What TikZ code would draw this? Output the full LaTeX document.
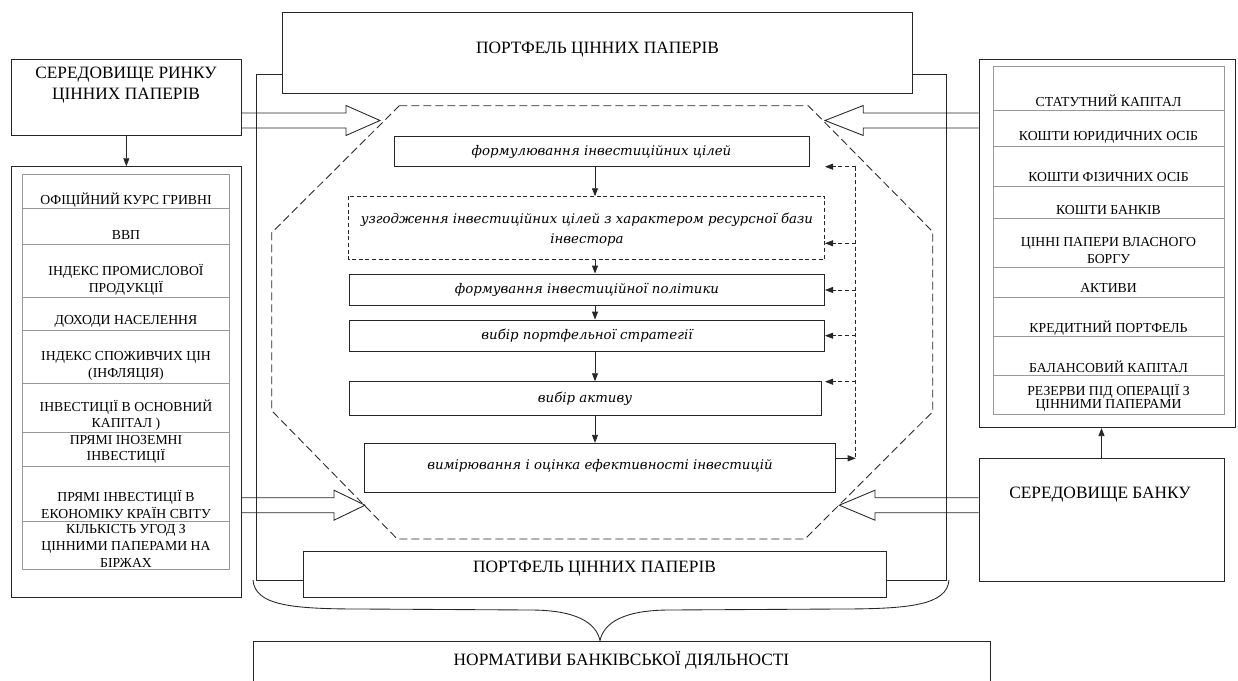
\documentclass[tikz,border=0pt]{standalone}
\usepackage{fontspec}
\setmainfont{Liberation Serif}
\newfontfamily\flowfont{DejaVu Serif}
\usetikzlibrary{arrows.meta, fit, calc}

% double-line hollow arrow: from anchor, head base x, tip x, axis y
\newcommand{\hollowarr}[4]{%
  \draw[frame] (#1 |- 0,#4-7.5) -- (#2,#4-7.5) -- (#2,#4-15) -- (#3,#4)
    -- (#2,#4+15) -- (#2,#4+7.5) -- (#1 |- 0,#4+7.5);}

\begin{document}
\begin{tikzpicture}[x=0.75pt, y=-0.75pt,
    box/.style={draw=black!85, line width=0.65pt, inner sep=0pt},
    tbl/.style={draw=black!40, line width=0.6pt, inner sep=0pt},
    cell/.style={draw=black!40, line width=0.6pt},
    frame/.style={draw=black!85, line width=0.65pt},
    hdr/.style={align=center, inner sep=0pt, font=\fontsize{13}{16}\selectfont},
    cellt/.style={align=center, inner sep=0pt, font=\fontsize{10.3}{12.5}\selectfont},
    flowt/.style={align=center, inner sep=0pt, font=\flowfont\itshape\fontsize{10}{15}\selectfont},
    arr/.style={draw=black!85, line width=0.65pt, -{Triangle[length=6pt,width=4.5pt]}},
    fbline/.style={draw=black!85, line width=0.6pt, dash pattern=on 3pt off 2pt}]
  \useasboundingbox (0,0) rectangle (1238,681);
  \clip (0,0) rectangle (1238,681);

  % central portfolio boxes and frame
  \node[box, fit={(282.7,12.3) (912.3,93.3)}] (topP) {};
  \node[hdr] (topPt) at (597.5,50) {ПОРТФЕЛЬ ЦІННИХ ПАПЕРІВ};
  \node[box, fit={(303,551) (886,597)}] (botP) {};
  \node[hdr] (botPt) at (594.5,569) {ПОРТФЕЛЬ ЦІННИХ ПАПЕРІВ};
  \draw[frame] (topP.west |- 0,74) -- (256,74) -- (256,580.7) -- (botP.west |- 0,580.7);
  \draw[frame] (botP.east |- 0,580.7) -- (946.7,580.7) -- (946.7,74) -- (topP.east |- 0,74);

  \draw[black!85, line width=0.65pt, dash pattern=on 6pt off 3pt]
    (399.3,105.7) -- (808.3,105.7) -- (932.7,231.7) -- (932.7,411.7) -- (805,539)
    -- (397.3,539) -- (271.7,410.7) -- (271.7,232.7) -- cycle;

  % flow of steps
  \node[box, fit={(394,136) (809,166.7)}] (b1) {};
  \node[flowt] (b1t) at (601.5,151.5) {формулювання інвестиційних цілей};
  \node[box, draw=none, fit={(349,196.7) (824.3,259)}] (b2) {};
  \draw[fbline] (b2.north west) rectangle (b2.south east);
  \node[flowt] (b2t) at (587,229.6) {узгодження інвестиційних цілей з характером ресурсної бази\\інвестора};
  \node[box, fit={(349,274) (824.3,305)}] (b3) {};
  \node[flowt] (b3t) at (587,290) {формування інвестиційної політики};
  \node[box, fit={(349,320) (824.3,351.7)}] (b4) {};
  \node[flowt] (b4t) at (587,336) {вибір портфельної стратегії};
  \node[box, fit={(349,381.7) (821,415.7)}] (b5) {};
  \node[flowt] (b5t) at (585,398.5) {вибір активу};
  \node[box, fit={(364,443.3) (835.7,492.3)}] (b6) {};
  \node[flowt] (b6t) at (600,465.5) {вимірювання і оцінка ефективності інвестицій};

  \coordinate (ax) at (595,0);
  \draw[arr] (b1.south -| ax) -- (b2.north -| ax);
  \draw[arr] (b2.south -| ax) -- (b3.north -| ax);
  \draw[arr] (b3.south -| ax) -- (b4.north -| ax);
  \draw[arr] (b4.south -| ax) -- (b5.north -| ax);
  \draw[arr] (b5.south -| ax) -- (b6.north -| ax);

  \coordinate (fbt) at (855.7,166.7);
  \coordinate (fbb) at (855.7,458.3);
  \draw[fbline] (fbt) -- (fbb);
  \foreach \y in {166.7,243.3,290,335.7,381.7}
    \draw[fbline, -{Triangle[length=6pt,width=4.5pt]}] (fbt |- 0,\y) -- (825,\y);
  \draw[arr] (b6.east |- fbb) -- (fbb);

  % left: securities market environment
  \node[box, fit={(11,59.3) (241.7,135)}] (envR) {};
  \node[hdr] (envRt) at (126,85) {СЕРЕДОВИЩЕ РИНКУ\\ЦІННИХ ПАПЕРІВ};
  \node[box, fit={(11,166.7) (241.7,597.7)}] (envM) {};
  \draw[arr] (envR.south) -- (envM.north);
  \node[tbl, fit={(22.3,174.3) (229,569.3)}] (tabL) {};
  \foreach \y in {208.3,244,297.7,330.7,383.3,432.7,466.7,521.7}
    \draw[cell] (tabL.west |- 0,\y) -- (tabL.east |- 0,\y);
  \node[cellt] (l1) at (126,200) {ОФІЦІЙНИЙ КУРС ГРИВНІ};
  \node[cellt] (l2) at (126,235) {ВВП};
  \node[cellt] (l3) at (126,280) {ІНДЕКС ПРОМИСЛОВОЇ\\ПРОДУКЦІЇ};
  \node[cellt] (l4) at (126,321) {ДОХОДИ НАСЕЛЕННЯ};
  \node[cellt] (l5) at (126,366) {ІНДЕКС СПОЖИВЧИХ ЦІН\\(ІНФЛЯЦІЯ)};
  \node[cellt] (l6) at (126,415) {ІНВЕСТИЦІЇ В ОСНОВНИЙ\\КАПІТАЛ )};
  \node[cellt] (l7) at (126,449.5) {ПРЯМІ ІНОЗЕМНІ\\ІНВЕСТИЦІЇ};
  \node[cellt] (l8) at (126,504.5) {ПРЯМІ ІНВЕСТИЦІЇ В\\ЕКОНОМІКУ КРАЇН СВІТУ};
  \node[cellt] (l9) at (126,546) {КІЛЬКІСТЬ УГОД З\\ЦІННИМИ ПАПЕРАМИ НА\\БІРЖАХ};

  % right: bank environment
  \node[box, fit={(979,59.3) (1235,427.7)}] (resR) {};
  \node[tbl, fit={(993,66) (1224,414)}] (tabR) {};
  \foreach \y in {110,146,186.7,218,267.3,297,336.7,375.7}
    \draw[cell] (tabR.west |- 0,\y) -- (tabR.east |- 0,\y);
  \node[cellt] (r1) at (1108.5,101) {СТАТУТНИЙ КАПІТАЛ};
  \node[cellt] (r2) at (1108.5,137.7) {КОШТИ ЮРИДИЧНИХ ОСІБ};
  \node[cellt] (r3) at (1108.5,177) {КОШТИ ФІЗИЧНИХ ОСІБ};
  \node[cellt] (r4) at (1108.5,210) {КОШТИ БАНКІВ};
  \node[cellt] (r5) at (1108.5,250.3) {ЦІННІ ПАПЕРИ ВЛАСНОГО\\БОРГУ};
  \node[cellt] (r6) at (1108.5,288) {АКТИВИ};
  \node[cellt] (r7) at (1108.5,328) {КРЕДИТНИЙ ПОРТФЕЛЬ};
  \node[cellt] (r8) at (1108.5,366.7) {БАЛАНСОВИЙ КАПІТАЛ};
  \node[cellt, font=\fontsize{10.3}{9.5}\selectfont] (r9) at (1108.5,398) {РЕЗЕРВИ ПІД ОПЕРАЦІЇ З\\ЦІННИМИ ПАПЕРАМИ};
  \node[box, fit={(979,458.3) (1224,581.7)}] (bank) {};
  \node[hdr] (bankt) at (1100,495) {СЕРЕДОВИЩЕ БАНКУ};
  \draw[arr] (bank.north) -- (bank.north |- resR.south);

  % hollow arrows into the process
  \hollowarr{envR.east}{346}{380}{120.5}
  \hollowarr{envM.east}{334}{365}{505.2}
  \hollowarr{resR.west}{863.3}{825}{120.5}
  \hollowarr{bank.west}{875}{839.3}{505.2}

  % norms and brace
  \node[box, fit={(253,641) (990,700)}] (norm) {};
  \node[hdr] (normt) at (621.5,660) {НОРМАТИВИ БАНКІВСЬКОЇ ДІЯЛЬНОСТІ};
  \coordinate (brL) at (253,580);
  \coordinate (brR) at (949,580);
  \draw[frame] (brL) .. controls (255,605) and (290,609) .. (360,609) -- (530,610)
    .. controls (575,610) and (596,622) .. (norm.north -| 600,0)
    .. controls (604,622) and (625,610) .. (670,610) -- (840,609)
    .. controls (910,609) and (947,605) .. (brR);
\end{tikzpicture}
\end{document}
